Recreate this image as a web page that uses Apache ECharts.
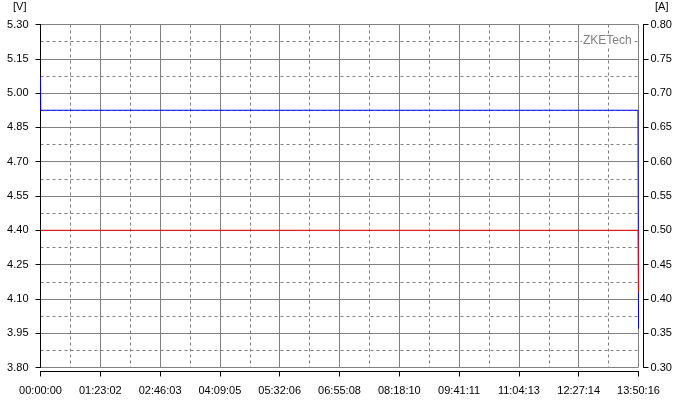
<!DOCTYPE html>
<html>
<head>
<meta charset="utf-8">
<script src="https://cdn.jsdelivr.net/npm/echarts@6/dist/echarts.min.js"></script>
<style>
html,body{margin:0;padding:0;background:#fff;}
#c{width:680px;height:402px;}
</style>
</head>
<body>
<div id="c"></div>
<script>
// Data (time in seconds)
const voltageTime = [0, 20, 49770, 49795, 49816];
const voltageValues = [5.07, 4.925, 4.925, 4.48, 3.97];
const currentTime = [0, 49790, 49816];
const currentValues = [0.50, 0.50, 0.41];
const totalSeconds = 49816;
const voltTicks = {min: 3.80, max: 5.30, interval: 0.15};
const ampTicks = {min: 0.30, max: 0.80, interval: 0.05};

function fmtTime(v) {
  const s = Math.round(v);
  const h = Math.floor(s / 3600), m = Math.floor((s % 3600) / 60), sec = s % 60;
  const p = n => String(n).padStart(2, '0');
  return p(h) + ':' + p(m) + ':' + p(sec);
}

const chart = echarts.init(document.getElementById('c'), null, {renderer: 'canvas'});
const font = {fontFamily: 'Liberation Sans, Arial, sans-serif', fontSize: 11, color: '#000'};
const gridLine = {show: true, lineStyle: {color: '#808080', width: 1, type: 'solid'}};
const minorLine = {show: true, lineStyle: {color: '#808080', width: 1, type: [3, 3]}};

chart.setOption({
  animation: false,
  backgroundColor: '#fff',
  grid: {left: 40.5, right: 41.5, top: 24.5, bottom: 34.5, containLabel: false},
  xAxis: {
    type: 'value', min: 0, max: totalSeconds, interval: totalSeconds / 10,
    offset: 4,
    axisLine: {show: true, lineStyle: {color: '#000', width: 1}},
    axisTick: {show: true, length: 5, lineStyle: {color: '#000'}},
    axisLabel: Object.assign({margin: 14, formatter: fmtTime, showMinLabel: true, showMaxLabel: true}, font),
    splitLine: gridLine,
    minorTick: {show: false, splitNumber: 2},
    minorSplitLine: minorLine
  },
  yAxis: [
    {
      type: 'value', position: 'left', min: voltTicks.min, max: voltTicks.max, interval: voltTicks.interval,
      offset: 4,
      axisLine: {show: true, lineStyle: {color: '#000', width: 1}},
      axisTick: {show: true, length: 5, lineStyle: {color: '#000'}},
      axisLabel: Object.assign({margin: 8, formatter: v => v.toFixed(2)}, font),
      splitLine: gridLine,
      minorTick: {show: false, splitNumber: 2},
      minorSplitLine: minorLine
    },
    {
      type: 'value', position: 'right', min: ampTicks.min, max: ampTicks.max, interval: ampTicks.interval,
      offset: 5,
      axisLine: {show: true, lineStyle: {color: '#000', width: 1}},
      axisTick: {show: true, length: 5, lineStyle: {color: '#000'}},
      axisLabel: Object.assign({margin: 7, formatter: v => v.toFixed(2)}, font),
      splitLine: {show: false}
    }
  ],
  graphic: [
    {type: 'text', left: 13, top: 1, style: {text: '[V]', font: '11px Liberation Sans, Arial, sans-serif', fill: '#000'}},
    {type: 'text', left: 655, top: 1, style: {text: '[A]', font: '11px Liberation Sans, Arial, sans-serif', fill: '#000'}},
    {type: 'text', left: 582, top: 35, z: 10, style: {text: 'ZKETech', font: '12px Liberation Sans, Arial, sans-serif', fill: '#808080', backgroundColor: '#fff', padding: [0, 1]}}
  ],
  series: [
    {
      type: 'line', yAxisIndex: 0, showSymbol: false, symbol: 'none',
      lineStyle: {color: '#0000ff', width: 1},
      data: voltageTime.map((t, i) => [t, voltageValues[i]])
    },
    {
      type: 'line', yAxisIndex: 1, showSymbol: false, symbol: 'none',
      lineStyle: {color: '#ff0000', width: 1},
      data: currentTime.map((t, i) => [t, currentValues[i]])
    }
  ]
});
</script>
</body>
</html>
